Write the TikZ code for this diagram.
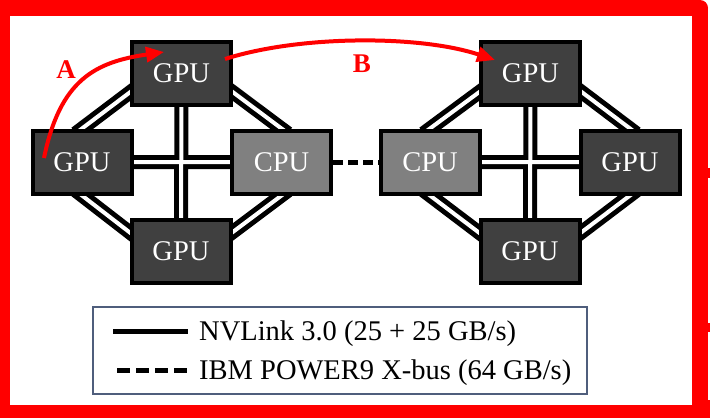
\documentclass[tikz,border=0pt]{standalone}
\usepackage{fontspec}
\setmainfont{Liberation Serif}
\usetikzlibrary{arrows.meta,backgrounds}
\definecolor{gpugray}{HTML}{404040}
\definecolor{cpugray}{HTML}{808080}
\definecolor{legendblue}{HTML}{4F5E7C}
\begin{document}
\begin{tikzpicture}[x=1pt, y=-1pt,
  chip/.style={draw=black, line width=4pt, minimum width=99pt, minimum height=63pt,
    inner sep=0pt, text=white, font=\fontsize{28.5}{34}\selectfont},
  gpu/.style={chip, fill=gpugray},
  cpu/.style={chip, fill=cpugray},
  nvlink/.style={line width=5pt, double=white, double distance=4pt,
    shorten <=-8pt, shorten >=-8pt},
  xbus/.style={line width=5pt, dash pattern=on 10pt off 5pt},
  hop/.style={red, line width=4pt, -{Triangle[length=18pt,width=15pt]}},
  hoplabel/.style={red, font=\fontsize{27}{32}\selectfont\bfseries},
  legendtext/.style={anchor=base west, inner sep=0pt, font=\fontsize{28.5}{34}\selectfont}]
\useasboundingbox (0,0) rectangle (710,418);
% left node
\node[gpu] (gtl) at (181.5,73.5) {GPU};
\node[gpu] (gl)  at (82,162)     {GPU};
\node[cpu] (cl)  at (281.5,162)  {CPU};
\node[gpu] (gbl) at (181,251)    {GPU};
% right node
\node[cpu] (cr)  at (430,162)    {CPU};
\node[gpu] (gtr) at (530.5,73.5) {GPU};
\node[gpu] (gr)  at (630,162)    {GPU};
\node[gpu] (gbr) at (530,251)    {GPU};
\begin{pgfonlayer}{background}
  % red frame
  \fill[red] (0,0) rectangle (700,418);
  \fill[red] (0,8) rectangle (708,418);
  \fill[red] (700,8) circle[radius=8pt];
  \fill[red] (708,168) rectangle (710,178);
  \fill[red] (708,323) rectangle (710,332);
  \fill[red] (708,400) rectangle (710,418);
  \fill[white] (10,16) rectangle (692,405);
  % links
  \draw[nvlink] (gl.north) -- (gtl.200);
  \draw[nvlink] (gl.south) -- (gbl.160);
  \draw[nvlink] (cl.north) -- (gtl.-20);
  \draw[nvlink] (cl.south) -- (gbl.20);
  \draw[nvlink] (gl.center) -- (cl.center) (gtl.center) -- (gbl.center);
  \draw[nvlink] (cr.north) -- (gtr.200);
  \draw[nvlink] (cr.south) -- (gbr.160);
  \draw[nvlink] (gr.north) -- (gtr.-20);
  \draw[nvlink] (gr.south) -- (gbr.20);
  \draw[nvlink] (cr.center) -- (gr.center) (gtr.center) -- (gbr.center);
  \draw[xbus] (cl.east) -- (cr.west);
\end{pgfonlayer}
% paths A and B
\coordinate (hopAstart) at ([shift={(-38,-4)}]gl.center);
\coordinate (hopAend)   at ([shift={(-17.5,-21.5)}]gtl.center);
\coordinate (hopBstart) at ([shift={(43.5,-14.5)}]gtl.center);
\coordinate (hopBend)   at ([shift={(-35.5,-13.5)}]gtr.center);
\draw[hop] (hopAstart) .. controls (60,80) and (95,62) .. (hopAend);
\draw[hop] (hopBstart) .. controls (300,35) and (420,35) .. (hopBend);
\node[hoplabel] (labA) at (66,70) {A};
\node[hoplabel] (labB) at (362,64) {B};
% legend
\draw[legendblue, line width=1.5pt] (93,307) rectangle (587,394);
\coordinate (nvA) at (113,331);
\coordinate (nvB) at (188,331);
\coordinate (xbA) at (117,370);
\coordinate (xbB) at (188,370);
\draw[line width=5pt] (nvA) -- (nvB);
\draw[xbus, dash pattern=on 13pt off 6pt] (xbA) -- (xbB);
\node[legendtext] (nvtext) at (199,340) {NVLink 3.0 (25 + 25 GB/s)};
\node[legendtext] (xbtext) at (199,379) {IBM POWER9 X-bus (64 GB/s)};
\end{tikzpicture}
\end{document}
